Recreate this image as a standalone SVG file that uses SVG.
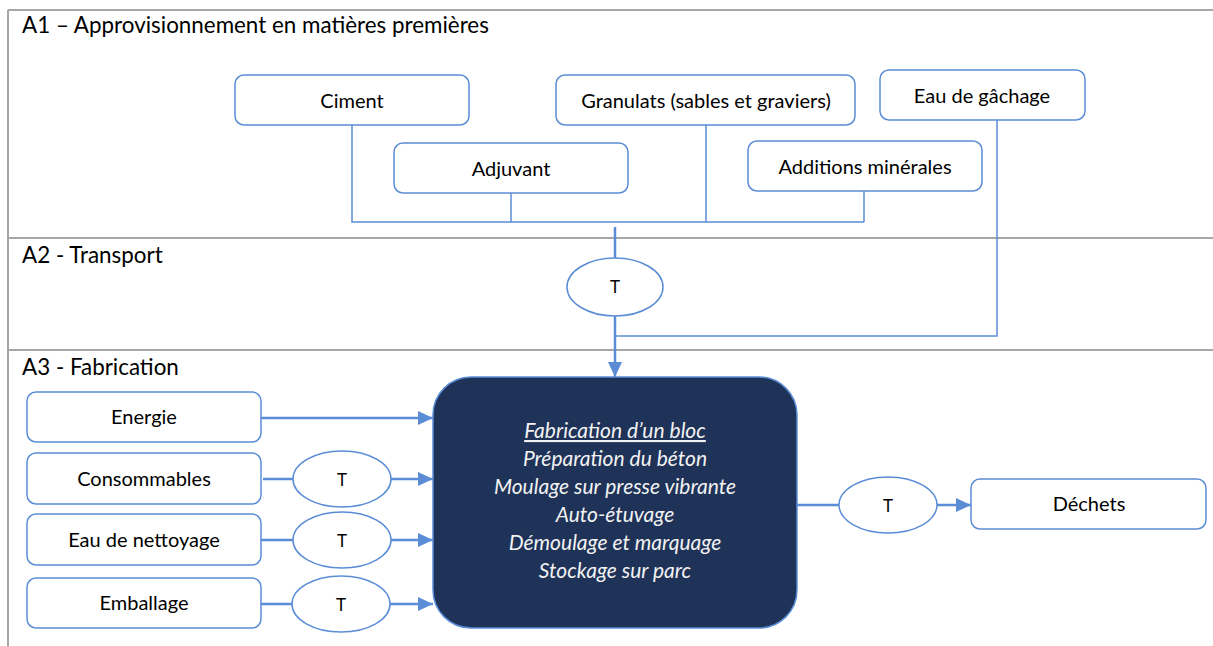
<svg xmlns="http://www.w3.org/2000/svg" width="1213" height="646" viewBox="0 0 1213 646">
<style>
.frame{stroke:#A6A6A6;stroke-width:2;fill:none}
.box{fill:#FFFFFF;stroke:#5B8DD6;stroke-width:1.5}
.ell{fill:#FFFFFF;stroke:#5B8DD6;stroke-width:1.5}
.thin{stroke:#5B8DD6;stroke-width:1.5;fill:none}
.thick{stroke:#5B8DD6;stroke-width:2.5;fill:none}
.lbl{font-family:Lato,"Liberation Sans",sans-serif;font-size:20px;fill:#000;text-anchor:middle}
.t{font-family:Lato,"Liberation Sans",sans-serif;font-size:17px;fill:#000;text-anchor:middle}
.sec{font-family:Lato,"Liberation Sans",sans-serif;font-size:22.4px;fill:#000}
.main{font-family:Lato,"Liberation Sans",sans-serif;font-size:21px;font-style:italic;fill:#F2F2F2;text-anchor:middle}
</style>
<defs>
<marker id="arr" markerWidth="16" markerHeight="14" refX="15" refY="7" orient="auto" markerUnits="userSpaceOnUse"><path d="M0,0 L15,7 L0,14 Z" fill="#5B8DD6"/></marker>
</defs>
<g id="frame">
<path class="frame" d="M8,10 H1213 M8,10 V646 M8,238 H1213 M8,350 H1213"/>
<text class="sec" x="22" y="33">A1 – Approvisionnement en matières premières</text>
<text class="sec" x="22" y="263">A2 - Transport</text>
<text class="sec" x="22" y="375">A3 - Fabrication</text>
</g>
<g id="connectors">
<path class="thin" d="M352,125 V222 H864 M511,193 V222 M706,125 V222 M864,191 V222"/>
<path class="thick" d="M615,227 V258"/>
<path class="thick" d="M615,316 V377" marker-end="url(#arr)"/>
<path class="thin" d="M997,120 V336 H615"/>
<path class="thick" d="M261,418 H433" marker-end="url(#arr)"/>
<path class="thick" d="M263,479 H293"/>
<path class="thick" d="M391,479 H433" marker-end="url(#arr)"/>
<path class="thick" d="M261,540 H293"/>
<path class="thick" d="M391,540 H433" marker-end="url(#arr)"/>
<path class="thick" d="M261,604 H292"/>
<path class="thick" d="M390,604 H433" marker-end="url(#arr)"/>
<path class="thick" d="M797,505 H839"/>
<path class="thick" d="M937,505 H971" marker-end="url(#arr)"/>
</g>
<g id="ciment"><rect class="box" x="235" y="75" width="234" height="50" rx="9"/><text class="lbl" x="352" y="108">Ciment</text></g>
<g id="granulats"><rect class="box" x="556" y="75" width="299" height="50" rx="9"/><text class="lbl" x="706" y="108">Granulats (sables et graviers)</text></g>
<g id="eau-gachage"><rect class="box" x="880" y="70" width="205" height="50" rx="9"/><text class="lbl" x="982" y="103">Eau de gâchage</text></g>
<g id="adjuvant"><rect class="box" x="394" y="143" width="234" height="50" rx="9"/><text class="lbl" x="511" y="176">Adjuvant</text></g>
<g id="additions"><rect class="box" x="748" y="141" width="234" height="50" rx="9"/><text class="lbl" x="865" y="174">Additions minérales</text></g>
<g id="t-transport"><ellipse class="ell" cx="615" cy="287" rx="48" ry="29"/><text class="t" x="615" y="293">T</text></g>
<g id="energie"><rect class="box" x="27" y="392" width="234" height="50" rx="9"/><text class="lbl" x="144" y="424">Energie</text></g>
<g id="consommables"><rect class="box" x="27" y="453" width="234" height="51" rx="9"/><text class="lbl" x="144" y="486">Consommables</text></g>
<g id="eau-nettoyage"><rect class="box" x="27" y="514" width="234" height="51" rx="9"/><text class="lbl" x="144" y="547">Eau de nettoyage</text></g>
<g id="emballage"><rect class="box" x="27" y="578" width="234" height="50" rx="9"/><text class="lbl" x="144" y="610">Emballage</text></g>
<g id="t-consommables"><ellipse class="ell" cx="342" cy="479" rx="49" ry="28"/><text class="t" x="342" y="486">T</text></g>
<g id="t-nettoyage"><ellipse class="ell" cx="342" cy="540" rx="49" ry="28"/><text class="t" x="342" y="547">T</text></g>
<g id="t-emballage"><ellipse class="ell" cx="341" cy="604" rx="49" ry="28"/><text class="t" x="341" y="611">T</text></g>
<g id="fabrication">
<rect x="433" y="377" width="364" height="251" rx="38" fill="#1F3359" stroke="#5B8DD6" stroke-width="1.5"/>
<text class="main" x="615" y="438" text-decoration="underline">Fabrication d’un bloc</text>
<text class="main" x="615" y="466">Préparation du béton</text>
<text class="main" x="615" y="494">Moulage sur presse vibrante</text>
<text class="main" x="615" y="522">Auto-étuvage</text>
<text class="main" x="615" y="550">Démoulage et marquage</text>
<text class="main" x="615" y="578">Stockage sur parc</text>
</g>
<g id="t-dechets"><ellipse class="ell" cx="888" cy="505" rx="49" ry="28"/><text class="t" x="888" y="512">T</text></g>
<g id="dechets"><rect class="box" x="971" y="479" width="235" height="50" rx="9"/><text class="lbl" x="1089" y="511">Déchets</text></g>
</svg>
